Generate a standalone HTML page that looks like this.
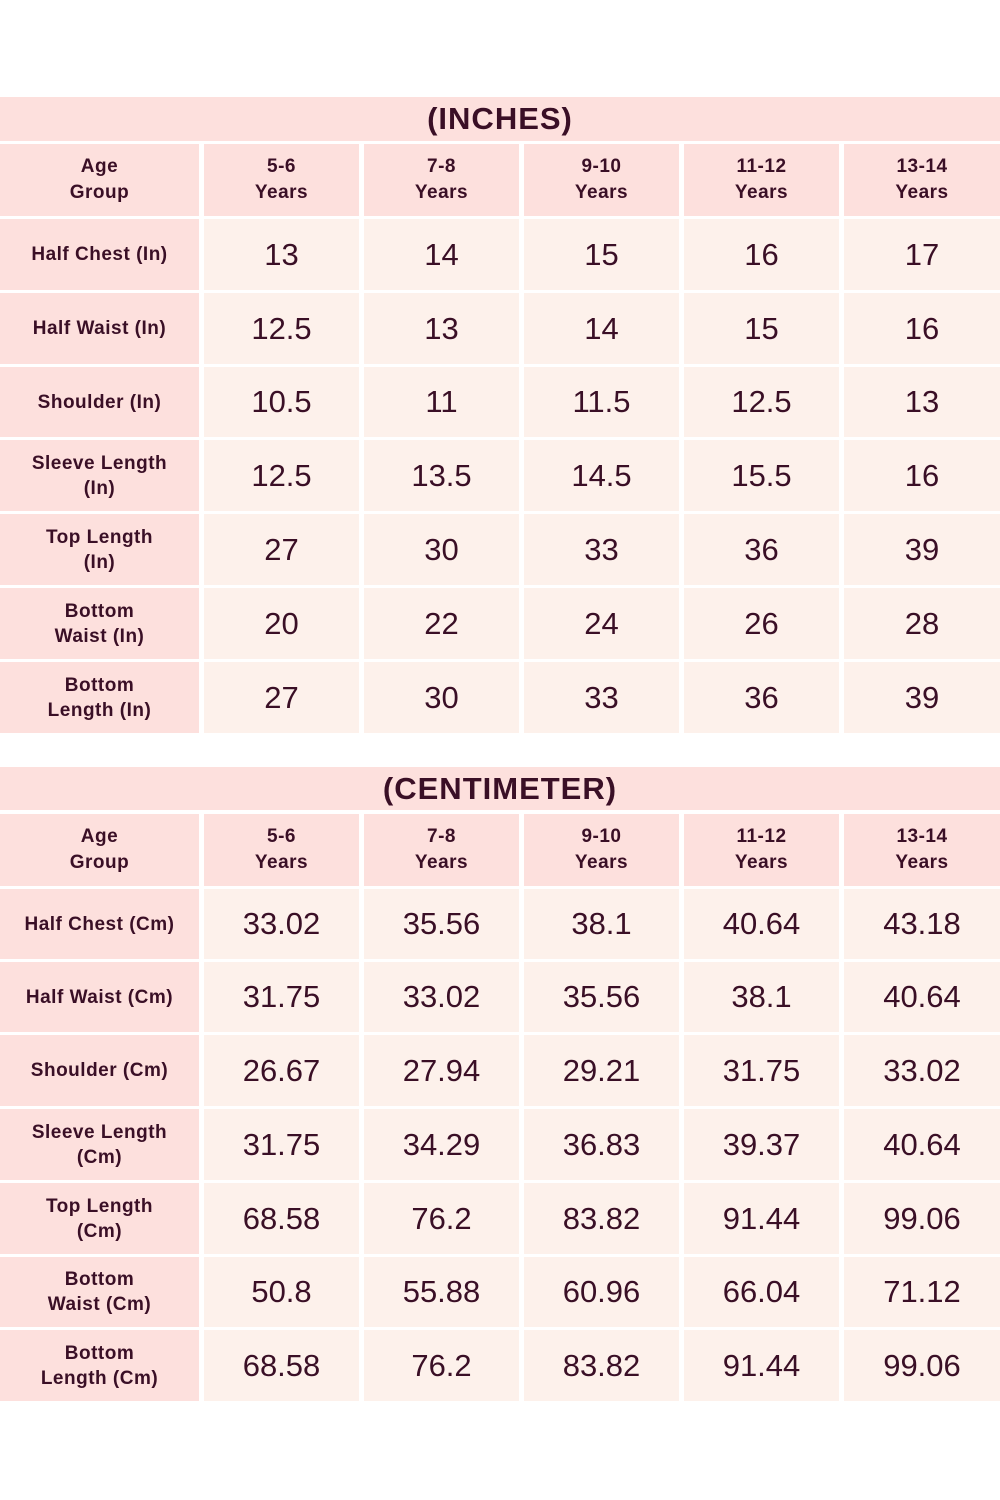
<!DOCTYPE html><html><head><meta charset="utf-8"><style>
body{margin:0;width:1000px;height:1500px;background:#fff;position:relative;font-family:"Liberation Sans","DejaVu Sans",sans-serif;color:#3a0f26;overflow:hidden}
.c{position:absolute;display:flex;align-items:center;justify-content:center;text-align:center;box-sizing:border-box}
.t{background:#fde0dd;font-weight:bold;font-size:31px;letter-spacing:1px}
.h{background:#fde0dd;font-weight:bold;font-size:19px;line-height:26px;letter-spacing:0.5px}
.l{background:#fde0dd;font-weight:bold;font-size:19px;line-height:25px;letter-spacing:0.5px}
.d{background:#fdf1eb;font-size:31px}
</style></head><body>
<div class="c t" style="left:0;top:97px;width:1000px;height:44px">(INCHES)</div>
<div class="c h" style="left:0;top:144px;width:199px;height:72px">Age<br>Group</div>
<div class="c h" style="left:204px;top:144px;width:155px;height:72px">5-6<br>Years</div>
<div class="c h" style="left:364px;top:144px;width:155px;height:72px">7-8<br>Years</div>
<div class="c h" style="left:524px;top:144px;width:155px;height:72px">9-10<br>Years</div>
<div class="c h" style="left:684px;top:144px;width:155px;height:72px">11-12<br>Years</div>
<div class="c h" style="left:844px;top:144px;width:156px;height:72px">13-14<br>Years</div>

<div class="c l" style="left:0;top:219px;width:199px;height:71px">Half Chest (In)</div>
<div class="c d" style="left:204px;top:219px;width:155px;height:71px">13</div><div class="c d" style="left:364px;top:219px;width:155px;height:71px">14</div><div class="c d" style="left:524px;top:219px;width:155px;height:71px">15</div><div class="c d" style="left:684px;top:219px;width:155px;height:71px">16</div><div class="c d" style="left:844px;top:219px;width:156px;height:71px">17</div>
<div class="c l" style="left:0;top:293px;width:199px;height:71px">Half Waist (In)</div>
<div class="c d" style="left:204px;top:293px;width:155px;height:71px">12.5</div><div class="c d" style="left:364px;top:293px;width:155px;height:71px">13</div><div class="c d" style="left:524px;top:293px;width:155px;height:71px">14</div><div class="c d" style="left:684px;top:293px;width:155px;height:71px">15</div><div class="c d" style="left:844px;top:293px;width:156px;height:71px">16</div>
<div class="c l" style="left:0;top:367px;width:199px;height:70px">Shoulder (In)</div>
<div class="c d" style="left:204px;top:367px;width:155px;height:70px">10.5</div><div class="c d" style="left:364px;top:367px;width:155px;height:70px">11</div><div class="c d" style="left:524px;top:367px;width:155px;height:70px">11.5</div><div class="c d" style="left:684px;top:367px;width:155px;height:70px">12.5</div><div class="c d" style="left:844px;top:367px;width:156px;height:70px">13</div>
<div class="c l" style="left:0;top:440px;width:199px;height:71px">Sleeve Length<br>(In)</div>
<div class="c d" style="left:204px;top:440px;width:155px;height:71px">12.5</div><div class="c d" style="left:364px;top:440px;width:155px;height:71px">13.5</div><div class="c d" style="left:524px;top:440px;width:155px;height:71px">14.5</div><div class="c d" style="left:684px;top:440px;width:155px;height:71px">15.5</div><div class="c d" style="left:844px;top:440px;width:156px;height:71px">16</div>
<div class="c l" style="left:0;top:514px;width:199px;height:71px">Top Length<br>(In)</div>
<div class="c d" style="left:204px;top:514px;width:155px;height:71px">27</div><div class="c d" style="left:364px;top:514px;width:155px;height:71px">30</div><div class="c d" style="left:524px;top:514px;width:155px;height:71px">33</div><div class="c d" style="left:684px;top:514px;width:155px;height:71px">36</div><div class="c d" style="left:844px;top:514px;width:156px;height:71px">39</div>
<div class="c l" style="left:0;top:588px;width:199px;height:71px">Bottom<br>Waist (In)</div>
<div class="c d" style="left:204px;top:588px;width:155px;height:71px">20</div><div class="c d" style="left:364px;top:588px;width:155px;height:71px">22</div><div class="c d" style="left:524px;top:588px;width:155px;height:71px">24</div><div class="c d" style="left:684px;top:588px;width:155px;height:71px">26</div><div class="c d" style="left:844px;top:588px;width:156px;height:71px">28</div>
<div class="c l" style="left:0;top:662px;width:199px;height:71px">Bottom<br>Length (In)</div>
<div class="c d" style="left:204px;top:662px;width:155px;height:71px">27</div><div class="c d" style="left:364px;top:662px;width:155px;height:71px">30</div><div class="c d" style="left:524px;top:662px;width:155px;height:71px">33</div><div class="c d" style="left:684px;top:662px;width:155px;height:71px">36</div><div class="c d" style="left:844px;top:662px;width:156px;height:71px">39</div>

<div class="c t" style="left:0;top:767px;width:1000px;height:43px">(CENTIMETER)</div>
<div class="c h" style="left:0;top:814px;width:199px;height:72px">Age<br>Group</div>
<div class="c h" style="left:204px;top:814px;width:155px;height:72px">5-6<br>Years</div>
<div class="c h" style="left:364px;top:814px;width:155px;height:72px">7-8<br>Years</div>
<div class="c h" style="left:524px;top:814px;width:155px;height:72px">9-10<br>Years</div>
<div class="c h" style="left:684px;top:814px;width:155px;height:72px">11-12<br>Years</div>
<div class="c h" style="left:844px;top:814px;width:156px;height:72px">13-14<br>Years</div>

<div class="c l" style="left:0;top:889px;width:199px;height:70px">Half Chest (Cm)</div>
<div class="c d" style="left:204px;top:889px;width:155px;height:70px">33.02</div><div class="c d" style="left:364px;top:889px;width:155px;height:70px">35.56</div><div class="c d" style="left:524px;top:889px;width:155px;height:70px">38.1</div><div class="c d" style="left:684px;top:889px;width:155px;height:70px">40.64</div><div class="c d" style="left:844px;top:889px;width:156px;height:70px">43.18</div>
<div class="c l" style="left:0;top:962px;width:199px;height:70px">Half Waist (Cm)</div>
<div class="c d" style="left:204px;top:962px;width:155px;height:70px">31.75</div><div class="c d" style="left:364px;top:962px;width:155px;height:70px">33.02</div><div class="c d" style="left:524px;top:962px;width:155px;height:70px">35.56</div><div class="c d" style="left:684px;top:962px;width:155px;height:70px">38.1</div><div class="c d" style="left:844px;top:962px;width:156px;height:70px">40.64</div>
<div class="c l" style="left:0;top:1035px;width:199px;height:71px">Shoulder (Cm)</div>
<div class="c d" style="left:204px;top:1035px;width:155px;height:71px">26.67</div><div class="c d" style="left:364px;top:1035px;width:155px;height:71px">27.94</div><div class="c d" style="left:524px;top:1035px;width:155px;height:71px">29.21</div><div class="c d" style="left:684px;top:1035px;width:155px;height:71px">31.75</div><div class="c d" style="left:844px;top:1035px;width:156px;height:71px">33.02</div>
<div class="c l" style="left:0;top:1109px;width:199px;height:71px">Sleeve Length<br>(Cm)</div>
<div class="c d" style="left:204px;top:1109px;width:155px;height:71px">31.75</div><div class="c d" style="left:364px;top:1109px;width:155px;height:71px">34.29</div><div class="c d" style="left:524px;top:1109px;width:155px;height:71px">36.83</div><div class="c d" style="left:684px;top:1109px;width:155px;height:71px">39.37</div><div class="c d" style="left:844px;top:1109px;width:156px;height:71px">40.64</div>
<div class="c l" style="left:0;top:1183px;width:199px;height:71px">Top Length<br>(Cm)</div>
<div class="c d" style="left:204px;top:1183px;width:155px;height:71px">68.58</div><div class="c d" style="left:364px;top:1183px;width:155px;height:71px">76.2</div><div class="c d" style="left:524px;top:1183px;width:155px;height:71px">83.82</div><div class="c d" style="left:684px;top:1183px;width:155px;height:71px">91.44</div><div class="c d" style="left:844px;top:1183px;width:156px;height:71px">99.06</div>
<div class="c l" style="left:0;top:1257px;width:199px;height:70px">Bottom<br>Waist (Cm)</div>
<div class="c d" style="left:204px;top:1257px;width:155px;height:70px">50.8</div><div class="c d" style="left:364px;top:1257px;width:155px;height:70px">55.88</div><div class="c d" style="left:524px;top:1257px;width:155px;height:70px">60.96</div><div class="c d" style="left:684px;top:1257px;width:155px;height:70px">66.04</div><div class="c d" style="left:844px;top:1257px;width:156px;height:70px">71.12</div>
<div class="c l" style="left:0;top:1330px;width:199px;height:71px">Bottom<br>Length (Cm)</div>
<div class="c d" style="left:204px;top:1330px;width:155px;height:71px">68.58</div><div class="c d" style="left:364px;top:1330px;width:155px;height:71px">76.2</div><div class="c d" style="left:524px;top:1330px;width:155px;height:71px">83.82</div><div class="c d" style="left:684px;top:1330px;width:155px;height:71px">91.44</div><div class="c d" style="left:844px;top:1330px;width:156px;height:71px">99.06</div>
</body></html>
